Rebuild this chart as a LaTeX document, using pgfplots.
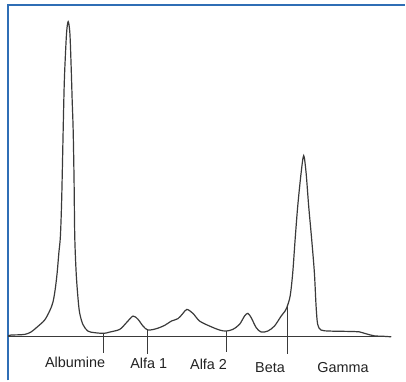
\documentclass[border=0pt]{standalone}
\usepackage{pgfplots}
\pgfplotsset{compat=1.18}
\usepackage{fontspec}
\setmainfont{Liberation Sans}
\definecolor{frameblue}{HTML}{2F6EB5}
\definecolor{curvegray}{HTML}{3A3A3A}
\definecolor{labelgray}{HTML}{222222}
\begin{document}
\begin{tikzpicture}
\begin{axis}[
  scale only axis,
  width=406bp, height=381bp,
  xmin=0, xmax=406, ymin=-43.5, ymax=337.5,
  hide axis, clip=false,
]
% bounding area
\path (axis cs:0,-43.5) rectangle (axis cs:406,337.5);
% frame
\addplot[frameblue, line width=1.6bp, forget plot] coordinates {(8.3,-43.5) (8.3,332.5) (406,332.5)};
% baseline
\addplot[curvegray, line width=1.3bp, forget plot] coordinates {(8.3,0) (392,0)};
% electrophoresis curve
\addplot[curvegray, line width=1.2bp, smooth, tension=0.5] coordinates {
(8.3,1) (11,1.8) (18,2) (25,2.5) (31,4.8) (38,10.5) (44.7,16.8) (49.7,25.8)
(53,34.5) (55.3,47.5) (57.3,64.5) (59,84.5) (60.5,100.5) (61.8,137.5)
(63.3,207.5) (64.2,247.5) (65,270.5) (66.7,304.5) (68.3,315.8) (70,304.5)
(71.3,270.5) (72.3,237.5) (73.3,207.5) (74.2,157.5) (74.9,100.5) (76.3,64.5)
(78,40.5) (79.7,24.5) (83,12.5) (88,5.8) (94.7,4.2) (104,3.5) (110,4.8)
(120,7.5) (126.7,14.2) (133.3,20.8) (138.3,17.5) (143.3,10.8) (148.3,6.8)
(156.7,8.2) (165,11.5) (171.7,15.8) (178.3,18.2) (183.3,23.5) (187.3,27.5)
(193.3,23.5) (200,15.8) (210,10.8) (220,6.8) (226.7,5.8) (233.3,7.5)
(240,12.5) (245,20.8) (248.3,23.5) (251.7,19.2) (256.7,9.2) (261.7,4.8)
(268.3,5.8) (275,10.8) (281.7,20.8) (285,25) (287.3,29.2) (290.7,40.8)
(293.3,64) (295.7,97.5) (298.3,130.8) (301.7,164.2) (304.3,181.5)
(306.7,164.2) (309.3,130.8) (312.3,97.5) (315,64.2) (316.7,30.8)
(318.3,12.5) (321.7,6.8) (330,5.8) (345,5.5) (355,5.3) (360,5) (367,3)
(375,1) (385,0.5) (392,0)
};
% separator ticks
\addplot[curvegray, line width=0.9bp, forget plot] coordinates {(104,3.5) (104,-15.8)};
\addplot[curvegray, line width=0.9bp, forget plot] coordinates {(148,6.8) (148,-17.5)};
\addplot[curvegray, line width=0.9bp, forget plot] coordinates {(227,5.8) (227,-15.5)};
\addplot[curvegray, line width=0.9bp, forget plot] coordinates {(288,30.5) (288,-17.5)};
% labels
\begin{scope}[every node/.style={anchor=base, inner sep=0pt, text=labelgray, font=\fontsize{14.5}{17}\selectfont}]
\node at (axis cs:75.3,-30.5) {Albumine};
\node at (axis cs:149,-31.5) {Alfa 1};
\node at (axis cs:209,-32.5) {Alfa 2};
\node at (axis cs:270.5,-35.5) {Beta};
\node at (axis cs:343.7,-35.5) {Gamma};
\end{scope}
\end{axis}
\end{tikzpicture}
\end{document}
